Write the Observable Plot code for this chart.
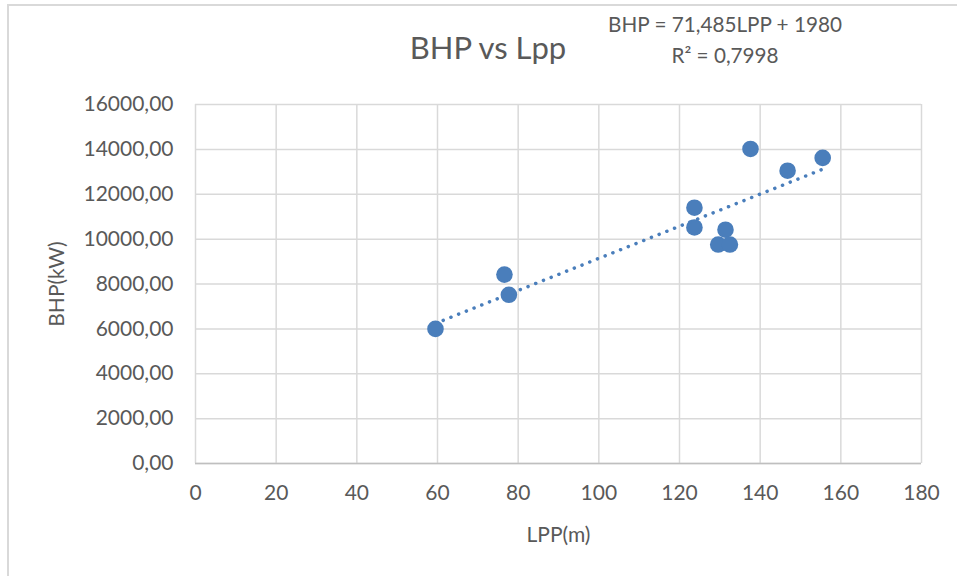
<!DOCTYPE html>
<html><head><meta charset="utf-8">
<script src="https://cdn.jsdelivr.net/npm/d3@7"></script>
<script src="https://cdn.jsdelivr.net/npm/@observablehq/plot@0.6"></script>
<style>
body{margin:0;background:#fff;}
#wrap{position:relative;width:957px;height:576px;overflow:hidden;font-family:Lato,"Open Sans",sans-serif;color:#595959;background:#fff;}
#frame{position:absolute;left:7px;top:4px;width:960px;height:580px;border-left:2px solid #d9d9d9;border-top:2px solid #d9d9d9;}
#title{position:absolute;left:0;width:976px;top:31.5px;text-align:center;font-size:31px;line-height:31px;white-space:nowrap;}
.eq{position:absolute;left:0;width:1450px;text-align:center;font-size:20.7px;line-height:20.7px;white-space:nowrap;}
#chart{position:absolute;left:0;top:0;}
</style></head>
<body>
<div id="wrap">
  <div id="frame"></div>
  <div id="chart"></div>
  <div id="title"></div>
  <div class="eq" id="eq1" style="top:13.6px"></div>
  <div class="eq" id="eq2" style="top:44.6px"></div>
</div>
<script>
// ---- data ----
const lpp = [59.5, 76.6, 77.7, 123.7, 123.7, 129.6, 131.4, 132.5, 137.6, 146.8, 155.5];
const bhp = [6000, 8420, 7520, 11400, 10520, 9760, 10420, 9760, 14020, 13050, 13620];
const xTicks = [0, 20, 40, 60, 80, 100, 120, 140, 160, 180];
const yTicks = [0, 2000, 4000, 6000, 8000, 10000, 12000, 14000, 16000];
const titleText = "BHP vs Lpp";
const xLabel = "LPP(m)";
const yLabel = "BHP(kW)";
const eqLine1 = "BHP = 71,485LPP + 1980";
const eqLine2 = "R² = 0,7998";

const data = lpp.map((x, i) => ({lpp: x, bhp: bhp[i]}));
const blue = "#4a7ebb";
const grid = "#d9d9d9";

document.getElementById("title").textContent = titleText;
document.getElementById("eq1").textContent = eqLine1;
document.getElementById("eq2").textContent = eqLine2;

const chart = Plot.plot({
  width: 957,
  height: 576,
  marginLeft: 195,
  marginRight: 36,
  marginTop: 104,
  marginBottom: 113,
  style: {fontFamily: "Lato, 'Open Sans', sans-serif", fontSize: "21px", color: "#595959", background: "transparent"},
  x: {domain: [0, 180]},
  y: {domain: [0, 16000]},
  marks: [
    Plot.gridX(xTicks, {stroke: grid, strokeOpacity: 1, strokeWidth: 1.5}),
    Plot.gridY(yTicks, {stroke: grid, strokeOpacity: 1, strokeWidth: 1.5}),
    Plot.ruleY([0], {stroke: "#bfbfbf", strokeWidth: 1.5}),
    Plot.axisX({ticks: xTicks, tickSize: 0, tickPadding: 22, label: xLabel, labelAnchor: "center", labelOffset: 78, labelArrow: "none", fill: "#595959"}),
    Plot.axisY({ticks: yTicks, tickSize: 0, tickPadding: 22, tickFormat: d => d3.format(".2f")(d).replace(".", ","), label: yLabel, labelAnchor: "center", labelOffset: 146, labelArrow: "none", fill: "#595959"}),
    Plot.dot(data, {x: "lpp", y: "bhp", r: 8.3, fill: blue, stroke: "none"}),
    Plot.linearRegressionY(data, {x: "lpp", y: "bhp", ci: 0, stroke: blue, strokeWidth: 3.5, strokeDasharray: "0.1,8.2", strokeLinecap: "round"})
  ]
});
document.getElementById("chart").appendChild(chart);
</script>
</body></html>
